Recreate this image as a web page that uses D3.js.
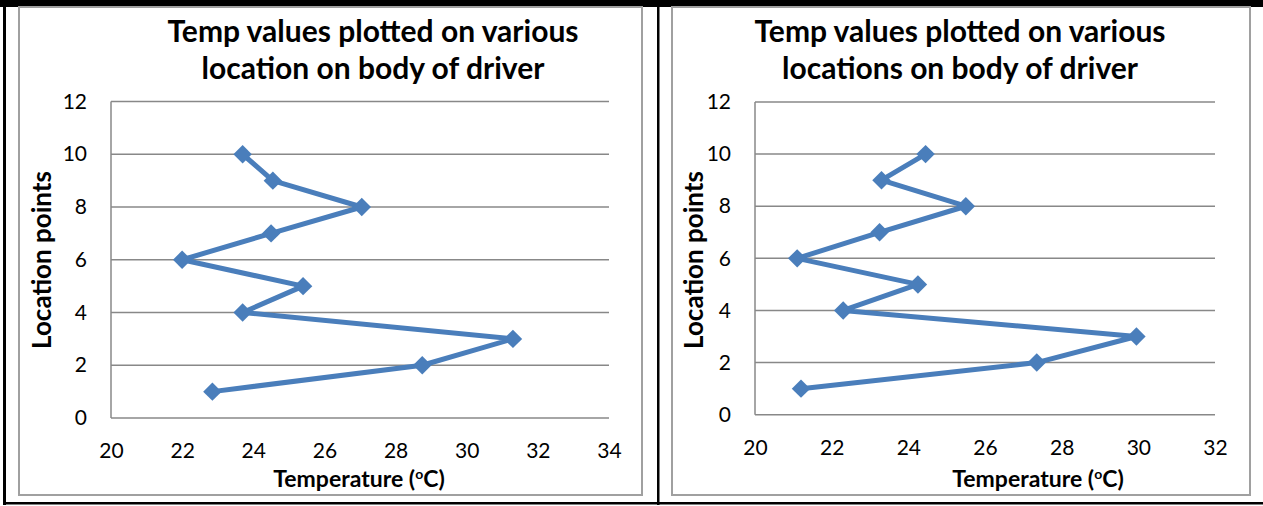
<!DOCTYPE html>
<html>
<head>
<meta charset="utf-8">
<script src="https://cdn.jsdelivr.net/npm/d3@7"></script>
<style>
  body { margin: 0; background: #fff; }
  svg { display: block; font-family: Lato, "Open Sans", sans-serif; }
</style>
</head>
<body>
<svg width="1263" height="506"></svg>
<script>
// location points 1..10 on the body
var locations = [1, 2, 3, 4, 5, 6, 7, 8, 9, 10];
// temperatures (°C)
var tempsLeft = [22.85, 28.75, 31.3, 23.7, 25.4, 22.0, 24.5, 27.05, 24.55, 23.7];
var tempsRight = [21.2, 27.35, 29.95, 22.3, 24.25, 21.1, 23.25, 25.5, 23.3, 24.45];

var xTicksLeft = [20, 22, 24, 26, 28, 30, 32, 34];
var xTicksRight = [20, 22, 24, 26, 28, 30, 32];
var yTicks = [0, 2, 4, 6, 8, 10, 12];

var titleLeft = ["Temp values plotted on various", "location on body  of driver"];
var titleRight = ["Temp values plotted on various", "locations on body of driver"];

var svg = d3.select("svg");
var blue = "#4a7ebb";

// page / table lines
svg.append("rect").attr("x", 0).attr("y", 0).attr("width", 1263).attr("height", 7).attr("fill", "#000");
svg.append("rect").attr("x", 3).attr("y", 0).attr("width", 3).attr("height", 505).attr("fill", "#000");
svg.append("rect").attr("x", 657).attr("y", 0).attr("width", 2.5).attr("height", 505).attr("fill", "#000");
svg.append("rect").attr("x", 3).attr("y", 502).attr("width", 1260).attr("height", 2.5).attr("fill", "#000");

function drawChart(opt) {
  var g = svg.append("g");

  g.append("rect")
    .attr("x", opt.frame[0]).attr("y", opt.frame[1])
    .attr("width", opt.frame[2] - opt.frame[0]).attr("height", opt.frame[3] - opt.frame[1])
    .attr("fill", "#fff").attr("stroke", "#a0a0a0").attr("stroke-width", 2);

  var x = d3.scaleLinear().domain(opt.xDomain).range(opt.xRange);
  var y = d3.scaleLinear().domain([0, 12]).range(opt.yRange);

  // horizontal gridlines
  g.selectAll(".grid").data(yTicks).enter().append("line")
    .attr("x1", opt.xRange[0]).attr("x2", opt.xRange[1])
    .attr("y1", function(d) { return y(d); }).attr("y2", function(d) { return y(d); })
    .attr("stroke", "#888").attr("stroke-width", 1.5);

  // vertical axis line
  g.append("line")
    .attr("x1", opt.xRange[0]).attr("x2", opt.xRange[0])
    .attr("y1", y(0)).attr("y2", y(12))
    .attr("stroke", "#888").attr("stroke-width", 1.5);

  var xAxis = d3.axisBottom(x).tickValues(opt.xTicks).tickSize(0).tickPadding(25);
  var ax = g.append("g").attr("transform", "translate(0," + y(0) + ")").call(xAxis);
  ax.select(".domain").remove();
  ax.selectAll("text").attr("font-size", 21).attr("font-family", "Lato").attr("fill", "#000");

  var yAxis = d3.axisLeft(y).tickValues(yTicks).tickSize(0).tickPadding(24);
  var ay = g.append("g").attr("transform", "translate(" + opt.xRange[0] + ",0)").call(yAxis);
  ay.select(".domain").remove();
  ay.selectAll("text").attr("font-size", 21).attr("font-family", "Lato").attr("fill", "#000");

  var pts = locations.map(function(l, i) { return [opt.temps[i], l]; });
  var line = d3.line().x(function(d) { return x(d[0]); }).y(function(d) { return y(d[1]); });
  g.append("path").datum(pts)
    .attr("d", line).attr("fill", "none")
    .attr("stroke", blue).attr("stroke-width", 5).attr("stroke-linejoin", "round");

  g.selectAll(".pt").data(pts).enter().append("path")
    .attr("d", d3.symbol().type(d3.symbolSquare).size(170))
    .attr("transform", function(d) { return "translate(" + x(d[0]) + "," + y(d[1]) + ") rotate(45)"; })
    .attr("fill", blue);

  // title
  g.selectAll(".title").data(opt.title).enter().append("text")
    .attr("x", opt.titleX).attr("y", function(d, i) { return 42 + i * 37; })
    .attr("text-anchor", "middle").attr("font-size", 30).attr("font-weight", "bold")
    .text(function(d) { return d; });

  // x axis title
  var xt = g.append("text")
    .attr("x", opt.xTitleX).attr("y", 487)
    .attr("text-anchor", "middle").attr("font-size", 23).attr("font-weight", "bold");
  xt.append("tspan").text("Temperature (");
  xt.append("tspan").attr("font-size", 14).attr("dy", -8).text("o");
  xt.append("tspan").attr("dy", 8).text("C)");

  // y axis title
  g.append("text")
    .attr("transform", "translate(" + opt.yTitleX + "," + 260 + ") rotate(-90)")
    .attr("text-anchor", "middle").attr("font-size", 26).attr("font-weight", "bold")
    .text("Location points");
}

drawChart({
  frame: [19, 7, 642, 495],
  xDomain: [20, 34], xRange: [111, 609], yRange: [418, 101.5],
  xTicks: xTicksLeft, temps: tempsLeft, title: titleLeft,
  titleX: 373, xTitleX: 359, yTitleX: 51
});

drawChart({
  frame: [672, 7, 1250, 495],
  xDomain: [20, 32], xRange: [755, 1215], yRange: [414.7, 102],
  xTicks: xTicksRight, temps: tempsRight, title: titleRight,
  titleX: 960, xTitleX: 1038, yTitleX: 703
});
</script>
</body>
</html>
